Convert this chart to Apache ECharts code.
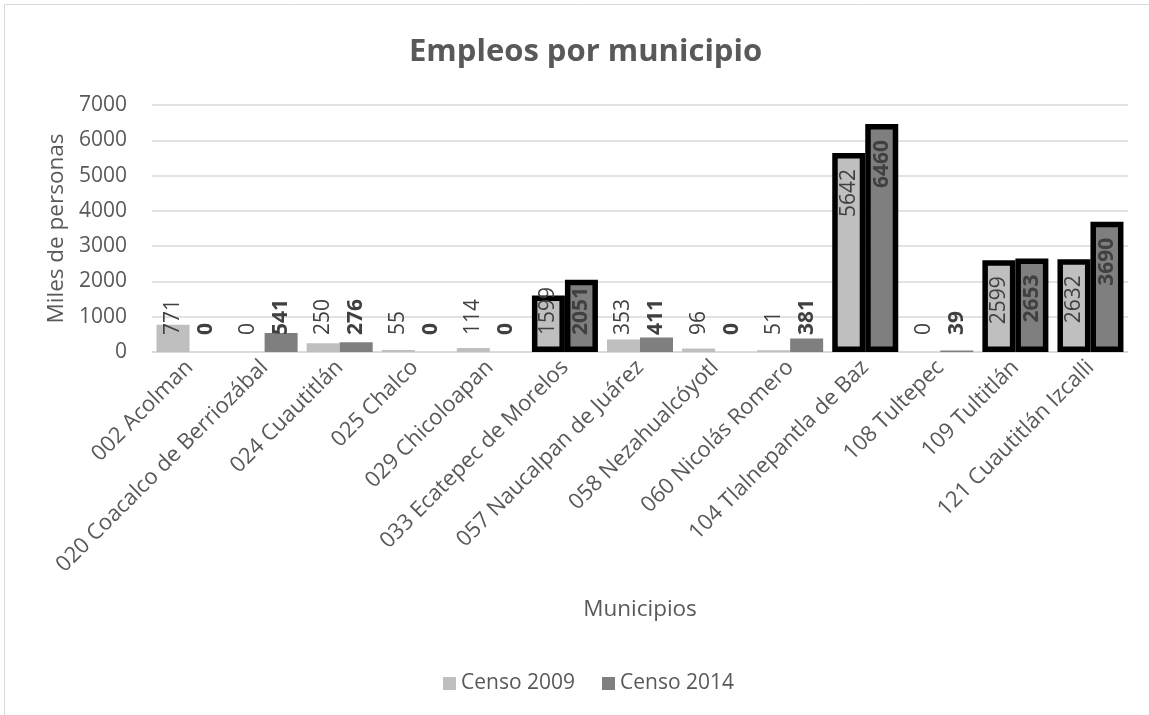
<!DOCTYPE html>
<html>
<head>
<meta charset="utf-8">
<title>Empleos por municipio</title>
<script src="https://cdn.jsdelivr.net/npm/echarts@6/dist/echarts.min.js"></script>
<style>
  html, body { margin: 0; padding: 0; background: #ffffff; }
  #grafica { width: 1149px; height: 715px; }
</style>
</head>
<body>
<div id="grafica"></div>
<script>
// Municipios y empleos (miles de personas) según cada censo
const categorias = [
  '002 Acolman', '020 Coacalco de Berriozábal', '024 Cuautitlán', '025 Chalco',
  '029 Chicoloapan', '033 Ecatepec de Morelos', '057 Naucalpan de Juárez',
  '058 Nezahualcóyotl', '060 Nicolás Romero', '104 Tlalnepantla de Baz',
  '108 Tultepec', '109 Tultitlán', '121 Cuautitlán Izcalli'
];
const censo2009 = [771, 0, 250, 55, 114, 1599, 353, 96, 51, 5642, 0, 2599, 2632];
const censo2014 = [0, 541, 276, 0, 0, 2051, 411, 0, 381, 6460, 39, 2653, 3690];
// Municipios cuyas barras se marcan con contorno negro
const resaltados = ['033 Ecatepec de Morelos', '104 Tlalnepantla de Baz', '109 Tultitlán', '121 Cuautitlán Izcalli'];
const marcasY = [0, 1000, 2000, 3000, 4000, 5000, 6000, 7000];

const FUENTE = '"Open Sans", "Noto Sans", sans-serif';
const GRIS_TEXTO = '#595959';
// Barras altas llevan la etiqueta dentro del extremo; las bajas, apoyada cerca de la base
const UMBRAL_ETIQUETA = 2300;

function puntos(valores) {
  return valores.map((v, i) => ({
    value: v,
    itemStyle: resaltados.includes(categorias[i]) ? { borderColor: '#000000', borderWidth: 5.5 } : {},
    label: v >= UMBRAL_ETIQUETA
      ? { position: 'insideTop', align: 'right', distance: 16 }
      : { position: 'insideBottom', align: 'left', distance: 17 }
  }));
}

function serie(nombre, valores, color, peso) {
  return {
    name: nombre,
    type: 'bar',
    barWidth: 33,
    barGap: '0%',
    itemStyle: { color: color },
    label: {
      show: true,
      rotate: 90,
      verticalAlign: 'middle',
      fontFamily: FUENTE,
      fontSize: 21,
      fontWeight: peso,
      color: '#404040'
    },
    data: puntos(valores)
  };
}

const grafica = echarts.init(document.getElementById('grafica'), null, { renderer: 'canvas' });

grafica.setOption({
  backgroundColor: '#ffffff',
  animation: false,
  textStyle: { fontFamily: FUENTE },
  graphic: [{
    type: 'rect',
    shape: { x: 4.5, y: 4.5, width: 1160, height: 740 },
    style: { fill: 'none', stroke: '#d9d9d9', lineWidth: 1 },
    silent: true
  }],
  title: {
    text: 'Empleos por municipio',
    left: 404,
    top: 32,
    textStyle: { fontFamily: FUENTE, fontSize: 31, fontWeight: 'bold', color: GRIS_TEXTO }
  },
  legend: {
    data: ['Censo 2009', 'Censo 2014'],
    left: 438,
    top: 668,
    icon: 'rect',
    itemWidth: 13,
    itemHeight: 13,
    itemGap: 27,
    textStyle: { fontFamily: FUENTE, fontSize: 21, color: GRIS_TEXTO }
  },
  grid: { left: 152, right: 21, top: 105, bottom: 363, containLabel: false },
  xAxis: {
    type: 'category',
    data: categorias,
    name: 'Municipios',
    nameLocation: 'middle',
    nameGap: 246,
    nameTextStyle: { fontFamily: FUENTE, fontSize: 22.5, color: GRIS_TEXTO },
    axisLine: { lineStyle: { color: '#d9d9d9', width: 1.5 } },
    axisTick: { show: false },
    axisLabel: {
      interval: 0,
      rotate: 45,
      margin: 12,
      fontFamily: FUENTE,
      fontSize: 22,
      color: GRIS_TEXTO
    }
  },
  yAxis: {
    type: 'value',
    min: marcasY[0],
    max: marcasY[marcasY.length - 1],
    interval: marcasY[1] - marcasY[0],
    name: 'Miles de personas',
    nameLocation: 'middle',
    nameGap: 78,
    nameTextStyle: { fontFamily: FUENTE, fontSize: 22.5, color: GRIS_TEXTO },
    axisLine: { show: false },
    axisTick: { show: false },
    axisLabel: {
      margin: 25,
      fontFamily: FUENTE,
      fontSize: 21,
      color: GRIS_TEXTO,
      formatter: (v) => String(v)
    },
    splitLine: { lineStyle: { color: '#d9d9d9', width: 1.5 } }
  },
  series: [
    serie('Censo 2009', censo2009, '#bfbfbf', 'normal'),
    serie('Censo 2014', censo2014, '#7f7f7f', 'bold')
  ]
});
</script>
</body>
</html>
